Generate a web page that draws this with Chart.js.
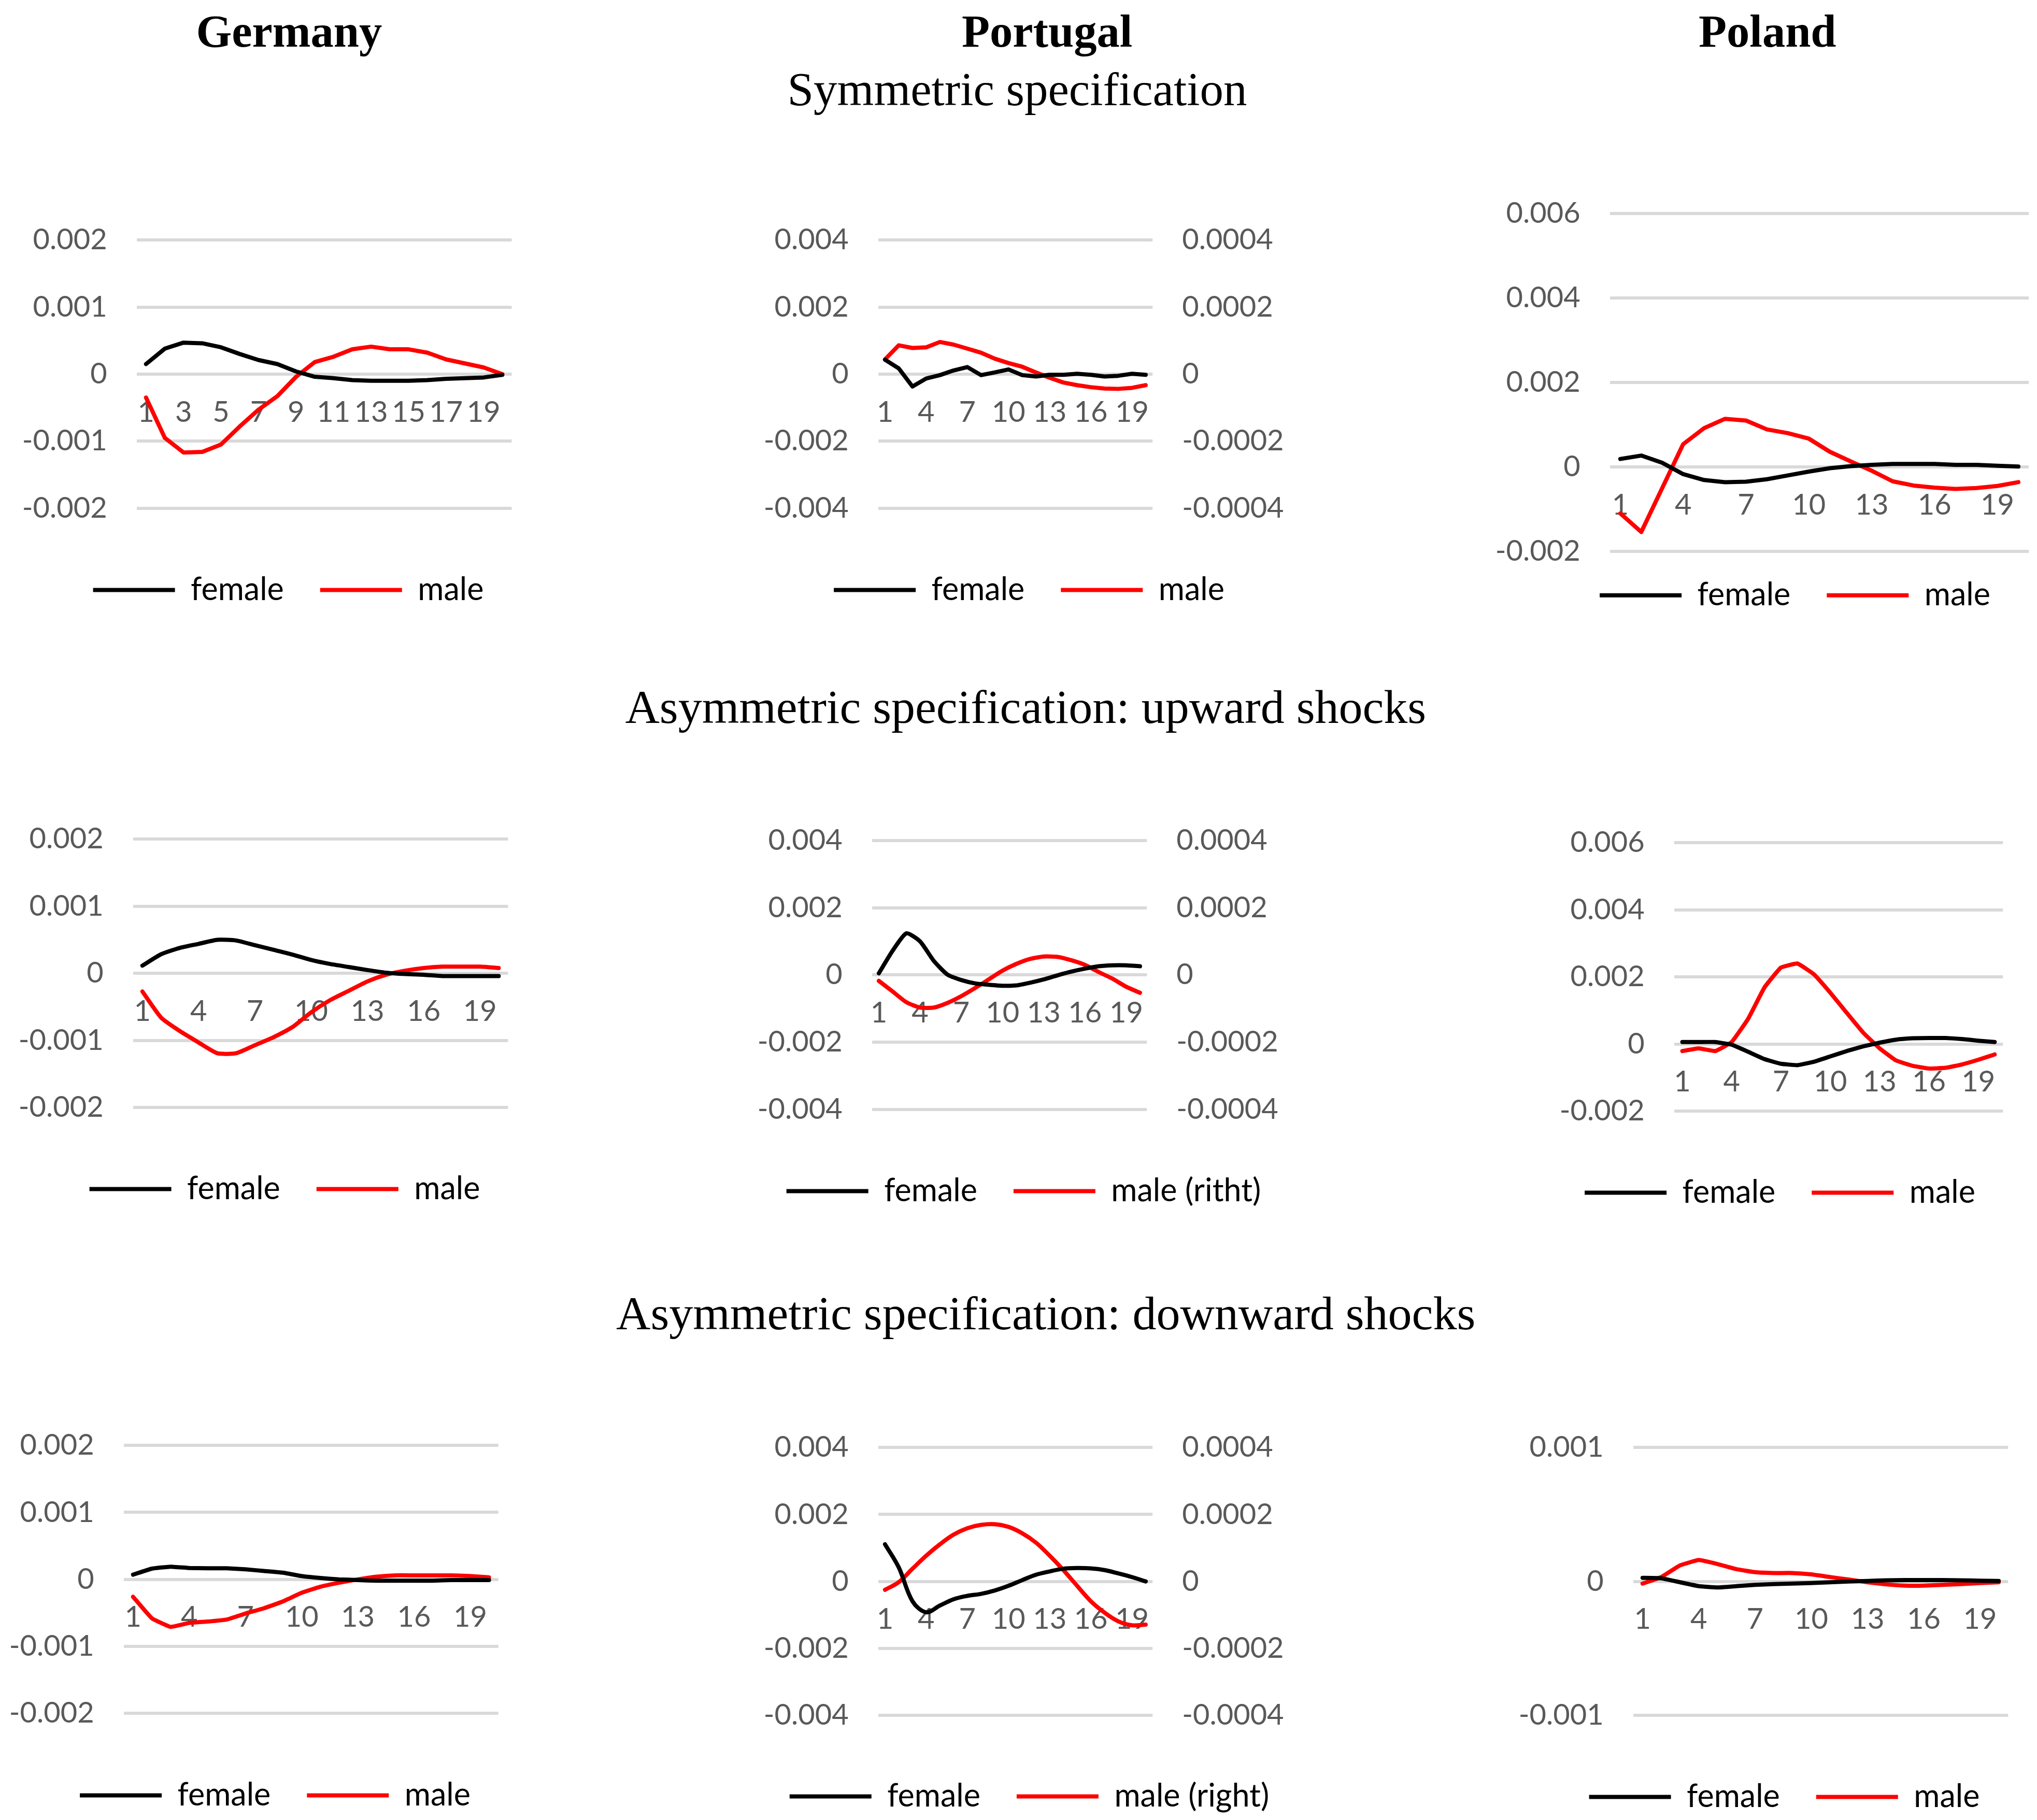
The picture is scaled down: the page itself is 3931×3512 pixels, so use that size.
<!DOCTYPE html>
<html>
<head>
<meta charset="utf-8">
<script src="https://cdn.jsdelivr.net/npm/chart.js@4/dist/chart.umd.min.js"></script>
<style>
html,body{margin:0;padding:0;background:#fff;}
#page{position:relative;width:3931px;height:3512px;overflow:hidden;background:#fff;}
.hdr{position:absolute;white-space:nowrap;font-family:"Liberation Serif","Times New Roman",serif;color:#000;line-height:1;transform:translateX(-50%);}
.bold{font-weight:bold;}
canvas{position:absolute;}
</style>
</head>
<body>
<div id="page"></div>
<script>
// ---------- categories & tick labels ----------
const periods = ["1","2","3","4","5","6","7","8","9","10","11","12","13","14","15","16","17","18","19","20"];
const xTicksEvery2 = ["1","3","5","7","9","11","13","15","17","19"];
const xTicksEvery3 = ["1","4","7","10","13","16","19"];
const yTicksGermany = ["-0.002","-0.001","0","0.001","0.002"];
const yTicksPortugalLeft = ["-0.004","-0.002","0","0.002","0.004"];
const yTicksPortugalRight = ["-0.0004","-0.0002","0","0.0002","0.0004"];
const yTicksPoland = ["-0.002","0","0.002","0.004","0.006"];
const yTicksPolandDown = ["-0.001","0","0.001"];

const columnTitles = ["Germany","Portugal","Poland"];
const rowTitles = ["Symmetric specification","Asymmetric specification: upward shocks","Asymmetric specification: downward shocks"];

// ---------- series values ----------
const germanySymFemale = [0.00015,0.00038,0.00047,0.00046,0.0004,0.0003,0.00021,0.00015,0.00004,-0.00004,-0.00006,-0.00009,-0.0001,-0.0001,-0.0001,-0.00009,-0.00007,-0.00006,-0.00005,-0.00001];
const germanySymMale = [-0.00035,-0.00095,-0.00117,-0.00116,-0.00105,-0.00078,-0.00053,-0.00033,-0.00004,0.00018,0.00026,0.00037,0.00041,0.00037,0.00037,0.00032,0.00022,0.00016,0.0001,0.0];

const portugalSymFemale = [0.00043,0.00017,-0.00037,-0.00013,-0.00003,0.00011,0.00021,-0.00003,0.00005,0.00014,-0.00003,-0.00007,-0.00002,-0.00002,0.00001,-0.00002,-0.00007,-0.00005,0.00001,-0.00002];
const portugalSymMale = [0.000044,0.000086,0.000078,0.00008,0.000096,0.000088,0.000076,0.000064,0.000046,0.000033,0.000022,0.000005,-0.000011,-0.000025,-0.000033,-0.000039,-0.000043,-0.000044,-0.000041,-0.000033];

const polandSymFemale = [0.00019,0.00027,0.0001,-0.00017,-0.00031,-0.00036,-0.00035,-0.00029,-0.0002,-0.00011,-0.00003,0.00002,0.00005,0.00007,0.00007,0.00007,0.00005,0.00005,0.00003,0.00001];
const polandSymMale = [-0.0011,-0.00154,-0.0005,0.00054,0.00092,0.00114,0.0011,0.00089,0.0008,0.00067,0.00036,0.00013,-0.00009,-0.00034,-0.00044,-0.00049,-0.00052,-0.0005,-0.00045,-0.00036];

const germanyUpFemale = [0.000115,0.000285,0.00038,0.00044,0.0005,0.00049,0.00042,0.00035,0.00028,0.0002,0.00014,0.000095,0.00005,0.00001,-0.00001,-0.00002,-0.00004,-0.00004,-0.00004,-0.00004];
const germanyUpMale = [-0.00027,-0.00066,-0.00086,-0.00103,-0.00119,-0.00119,-0.00107,-0.00095,-0.0008,-0.00058,-0.0004,-0.00026,-0.00012,-0.00002,0.00004,0.00008,0.0001,0.0001,0.0001,0.00008];

const portugalUpFemale = [0.00005,0.00072,0.00124,0.001,0.00042,0.00001,-0.00015,-0.00025,-0.00029,-0.00032,-0.00031,-0.00023,-0.00013,-0.00001,0.0001,0.00019,0.00026,0.00029,0.00029,0.00026];
const portugalUpMale = [-0.0000175,-0.000049,-0.000081,-0.000097,-0.000097,-0.000083,-0.000063,-0.000039,-0.000013,0.000013,0.000033,0.000048,0.000055,0.000054,0.000044,0.00003,0.0000087,-0.000011,-0.000035,-0.000053];

const polandUpFemale = [0.00006,0.00006,0.00006,-0.00002,-0.00023,-0.00045,-0.00059,-0.00063,-0.00053,-0.00037,-0.00021,-0.00007,0.00004,0.00013,0.00017,0.00018,0.00018,0.00015,0.0001,0.00006];
const polandUpMale = [-0.00021,-0.00013,-0.00021,0.00006,0.00075,0.00169,0.00228,0.0024,0.00208,0.00153,0.00093,0.00034,-0.00013,-0.00049,-0.00065,-0.00073,-0.00071,-0.00061,-0.00047,-0.00031];

const germanyDownFemale = [0.00007,0.00016,0.00019,0.00017,0.000165,0.000165,0.00015,0.000125,0.0001,0.00005,0.00002,0,-0.00001,-0.00002,-0.00002,-0.00002,-0.00002,-0.00001,-0.00001,-0.00001];
const germanyDownMale = [-0.00026,-0.00058,-0.00071,-0.00065,-0.00063,-0.0006,-0.00051,-0.00043,-0.00033,-0.0002,-0.00011,-0.00005,0,0.00004,0.00006,0.00006,0.00006,0.00006,0.00005,0.00003];

const portugalDownFemale = [0.00111,0.00042,-0.00059,-0.00092,-0.00072,-0.00053,-0.00043,-0.00037,-0.00027,-0.00013,0.00004,0.0002,0.0003,0.00038,0.0004,0.00039,0.00034,0.00024,0.00013,0];
const portugalDownMale = [-0.000025,-0.000002,0.000038,0.000077,0.000111,0.00014,0.000159,0.000169,0.000171,0.000163,0.000144,0.000116,0.000077,0.000034,-0.000013,-0.000059,-0.000093,-0.000119,-0.000131,-0.000129];

const polandDownFemale = [0.000027,0.000024,-0.000006,-0.000035,-0.000045,-0.000035,-0.000025,-0.00002,-0.000016,-0.000012,-0.000006,0,0.000004,0.000008,0.00001,0.00001,0.00001,0.000008,0.000006,0.000004];
const polandDownMale = [-0.000016,0.000033,0.00012,0.00016,0.00013,0.000092,0.000069,0.000063,0.000063,0.000053,0.000033,0.000014,-0.000006,-0.000022,-0.000031,-0.000031,-0.000025,-0.00002,-0.000012,-0.000006];

// ---------- layout (reference units, scaled by S) ----------
const S = 3931 / 1568;
const AX = 100;              // left axis band width
const TOP_PAD = 42;
const TICK_FONT = 56, LEG_FONT = 61, LEG_GAP = 70, LINE_W = 8, GRID_W = 6;
const FONT_FAMILY = 'Lato, "Open Sans", sans-serif';

const panels = [
  {female: germanySymFemale, male: germanySymMale, maleLabel: "male", yTicks: yTicksGermany, y1Ticks: null, xTicks: xTicksEvery2, box: [105.1, 393.8, 184.7, 390.9], legY: 453.9, legC: 221.8, tension: 0},
  {female: portugalSymFemale, male: portugalSymMale, maleLabel: "male", yTicks: yTicksPortugalLeft, y1Ticks: yTicksPortugalRight, xTicks: xTicksEvery3, box: [675.9, 887.1, 184.7, 390.9], legY: 453.9, legC: 792.1, tension: 0},
  {female: polandSymFemale, male: polandSymMale, maleLabel: "male", yTicks: yTicksPoland, y1Ticks: null, xTicks: xTicksEvery3, box: [1239.1, 1561.6, 164.5, 430.8], legY: 464.6, legC: 1381.7, tension: 0},
  {female: germanyUpFemale, male: germanyUpMale, maleLabel: "male", yTicks: yTicksGermany, y1Ticks: null, xTicks: xTicksEvery3, box: [102.5, 391.2, 645.9, 852.5], legY: 915.2, legC: 219.2, tension: 0.2},
  {female: portugalUpFemale, male: portugalUpMale, maleLabel: "male (ritht)", yTicks: yTicksPortugalLeft, y1Ticks: yTicksPortugalRight, xTicks: xTicksEvery3, box: [671.0, 882.6, 647.3, 853.9], legY: 916.9, legC: 787.8, tension: 0.2},
  {female: polandUpFemale, male: polandUpMale, maleLabel: "male", yTicks: yTicksPoland, y1Ticks: null, xTicks: xTicksEvery3, box: [1288.5, 1542.0, 648.6, 855.1], legY: 917.9, legC: 1370.0, tension: 0.1},
  {female: germanyDownFemale, male: germanyDownMale, maleLabel: "male", yTicks: yTicksGermany, y1Ticks: null, xTicks: xTicksEvery3, box: [95.1, 383.5, 1112.7, 1318.9], legY: 1382.1, legC: 211.6, tension: 0.1},
  {female: portugalDownFemale, male: portugalDownMale, maleLabel: "male (right)", yTicks: yTicksPortugalLeft, y1Ticks: yTicksPortugalRight, xTicks: xTicksEvery3, box: [675.9, 887.1, 1114.0, 1320.3], legY: 1382.7, legC: 792.3, tension: 0.35},
  {female: polandDownFemale, male: polandDownMale, maleLabel: "male", yTicks: yTicksPolandDown, y1Ticks: null, xTicks: xTicksEvery3, box: [1257.1, 1545.7, 1114.0, 1320.3], legY: 1383.1, legC: 1373.5, tension: 0.1}
];

const headers = [
  {text: columnTitles[0], cx: 222.5, base: 35.9, size: 88.5, bold: true},
  {text: columnTitles[1], cx: 806.0, base: 35.9, size: 88.5, bold: true},
  {text: columnTitles[2], cx: 1360.5, base: 35.9, size: 88.5, bold: true},
  {text: rowTitles[0], cx: 783.0, base: 80.9, size: 91, bold: false},
  {text: rowTitles[1], cx: 789.5, base: 556.3, size: 92, bold: false},
  {text: rowTitles[2], cx: 805.0, base: 1023.0, size: 92, bold: false}
];

const page = document.getElementById('page');

function buildHeaders() {
  headers.forEach(h => {
    const d = document.createElement('div');
    d.className = 'hdr' + (h.bold ? ' bold' : '');
    d.textContent = h.text;
    d.style.fontSize = h.size + 'px';
    d.style.left = (h.cx * S) + 'px';
    d.style.top = (h.base * S - 0.8375 * h.size) + 'px';
    page.appendChild(d);
  });
}

function labelFor(list, v) {
  let best = '', bd = Infinity;
  list.forEach(l => { const d = Math.abs(parseFloat(l) - v); if (d < bd) { bd = d; best = l; } });
  return best;
}

function buildPanel(p) {
  const [pl, pr, pt, pb] = p.box;
  const left = (pl - AX) * S;
  const top = (pt - TOP_PAD) * S;
  const right = (2 * p.legC - (pl - AX)) * S;
  const bottom = p.legY * S + 10 + LEG_FONT / 2;
  const W = Math.round(right - left), H = Math.round(bottom - top);
  const rightSpace = W - (pr * S - left);
  const spacerH = (p.legY - pb) * S - LEG_FONT / 2 - LEG_GAP;
  const dual = !!p.y1Ticks;

  const cv = document.createElement('canvas');
  cv.width = W; cv.height = H;
  cv.style.left = left + 'px';
  cv.style.top = top + 'px';
  cv.style.width = W + 'px';
  cv.style.height = H + 'px';
  page.appendChild(cv);

  const tickFont = {family: FONT_FAMILY, size: TICK_FONT};
  const yVals = p.yTicks.map(parseFloat);
  const y1Vals = dual ? p.y1Ticks.map(parseFloat) : [0, 1];

  new Chart(cv, {
    type: 'line',
    data: {
      labels: periods,
      datasets: [
        {label: 'female', data: p.female, borderColor: '#000000', backgroundColor: '#000000', borderWidth: LINE_W,
         pointRadius: 0, pointHoverRadius: 0, borderCapStyle: 'round', borderJoinStyle: 'round', tension: p.tension,
         xAxisID: 'x', yAxisID: 'y'},
        {label: p.maleLabel, data: p.male, borderColor: '#FF0000', backgroundColor: '#FF0000', borderWidth: LINE_W,
         pointRadius: 0, pointHoverRadius: 0, borderCapStyle: 'round', borderJoinStyle: 'round', tension: p.tension,
         xAxisID: 'x', yAxisID: dual ? 'y1' : 'y'}
      ]
    },
    options: {
      responsive: false,
      animation: false,
      events: [],
      layout: {padding: {top: TOP_PAD * S, left: 0, right: 0, bottom: 0}},
      plugins: {
        legend: {
          position: 'bottom',
          labels: {usePointStyle: true, pointStyle: 'line', pointStyleWidth: 158, padding: LEG_GAP,
                   color: '#000000', font: {family: FONT_FAMILY, size: LEG_FONT}}
        },
        tooltip: {enabled: false}
      },
      scales: {
        x: {
          type: 'category', position: {y: 0}, offset: true,
          grid: {display: false, drawTicks: false}, border: {display: false},
          ticks: {autoSkip: false, maxRotation: 0, minRotation: 0, padding: 40, color: '#595959', font: tickFont,
                  callback: function(v, i) { return p.xTicks.includes(periods[i]) ? periods[i] : ''; }}
        },
        xSpacer: {
          type: 'category', axis: 'x', position: 'bottom', display: true,
          grid: {display: false, drawTicks: false}, border: {display: false}, ticks: {display: false},
          afterFit: s => { s.height = spacerH; }
        },
        y: {
          type: 'linear', position: 'left', min: Math.min(...yVals), max: Math.max(...yVals),
          grid: {color: '#D9D9D9', lineWidth: GRID_W, drawTicks: false}, border: {display: false},
          ticks: {padding: 57, color: '#595959', font: tickFont, callback: v => labelFor(p.yTicks, v)},
          afterBuildTicks: s => { s.ticks = yVals.slice().sort((a, b) => a - b).map(v => ({value: v})); },
          afterFit: s => { s.width = AX * S; }
        },
        y1: {
          type: 'linear', position: 'right', display: true, min: Math.min(...y1Vals), max: Math.max(...y1Vals),
          grid: {display: false, drawTicks: false}, border: {display: false},
          ticks: {display: dual, padding: 57, color: '#595959', font: tickFont,
                  callback: v => dual ? labelFor(p.y1Ticks, v) : ''},
          afterBuildTicks: s => { s.ticks = y1Vals.slice().sort((a, b) => a - b).map(v => ({value: v})); },
          afterFit: s => { s.width = rightSpace; }
        }
      }
    }
  });
}

function build() {
  buildHeaders();
  panels.forEach(buildPanel);
}

const fontLoads = [
  document.fonts.load(TICK_FONT + 'px Lato'),
  document.fonts.load('bold 88px "Liberation Serif"'),
  document.fonts.load('91px "Liberation Serif"')
];
Promise.all(fontLoads).then(build, build);
</script>
</body>
</html>
